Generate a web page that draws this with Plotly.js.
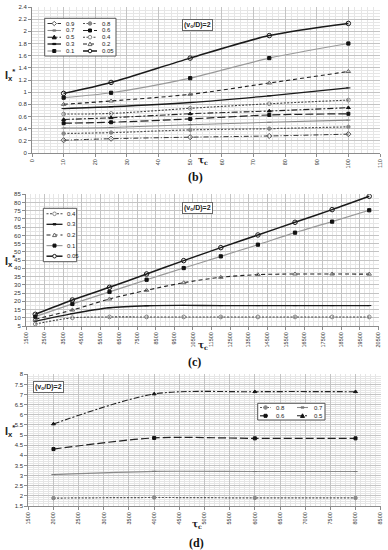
<!DOCTYPE html>
<html><head><meta charset="utf-8">
<script src="https://cdn.plot.ly/plotly-3.0.1.min.js"></script>
<style>html,body{margin:0;padding:0;background:#fff}#chart{width:388px;height:550px}</style>
</head><body><div id="chart"></div>
<script>
// ---- data (b) ----
const tauB = [10, 25, 50, 75, 100];
const b005 = [0.98, 1.16, 1.56, 1.93, 2.13];
const b01  = [0.91, 0.99, 1.23, 1.56, 1.80];
const b02  = [0.80, 0.855, 0.965, 1.15, 1.34];
const b03  = [0.73, 0.76, 0.83, 0.94, 1.07];
const b04  = [0.64, 0.65, 0.735, 0.81, 0.87];
const b05  = [0.55, 0.58, 0.645, 0.69, 0.745];
const b06  = [0.49, 0.505, 0.56, 0.625, 0.645];
const b07  = [0.41, 0.42, 0.465, 0.505, 0.54];
const b08  = [0.32, 0.335, 0.38, 0.40, 0.43];
const b09  = [0.21, 0.235, 0.26, 0.28, 0.31];
// ---- data (c) ----
const tauC = [2000, 4000, 6000, 8000, 10000, 12000, 14000, 16000, 18000, 20000];
const c005 = [12.1, 20.8, 28.5, 36.6, 44.7, 52.6, 60.3, 68.0, 75.7, 83.8];
const c01  = [10.7, 18.4, 25.7, 33.1, 40.2, 47.3, 54.4, 61.7, 68.4, 75.3];
const c02  = [9.1, 14.7, 21.4, 26.7, 31.3, 34.6, 36.2, 36.6, 36.6, 36.5];
const c03  = [7.9, 12.5, 16.1, 17.3, 17.5, 17.4, 17.4, 17.4, 17.4, 17.4];
const c04  = [6.2, 10.0, 10.5, 10.5, 10.5, 10.5, 10.5, 10.5, 10.5, 10.5];
// ---- data (d) ----
const tauD = [2000, 4000, 6000, 8000];
const d05 = [5.55, 7.03, 7.14, 7.14];
const d06 = [4.31, 4.86, 4.84, 4.84];
const d07 = [3.05, 3.21, 3.20, 3.20];
const d08 = [1.89, 1.92, 1.90, 1.90];

// ---- styles per series label ----
const ST = {
  '0.05': {lc:'#1a1a1a', dash:'solid', lw:1.5, sym:'circle-open', mc:'#1a1a1a', ms:4.5, k:'circ', fill:'white'},
  '0.1':  {lc:'#9a9a9a', dash:'solid', lw:1.2, sym:'square', mc:'#111', ms:3.2, k:'sq', fill:'#111'},
  '0.2':  {lc:'#222', dash:'4px,3px', lw:1.1, sym:'triangle-up-open', mc:'#666', ms:4, k:'tri', fill:'white'},
  '0.3':  {lc:'#1a1a1a', dash:'solid', lw:1.3, sym:'line-ew-open', mc:'#111', ms:3, k:'dash', fill:'#111'},
  '0.4':  {lc:'#444', dash:'2px,1.5px', lw:1.1, sym:'circle-open', mc:'#888', ms:3.8, k:'circ', fill:'white'},
  '0.5':  {lc:'#222', dash:'6px,2px,2px,2px', lw:1.1, sym:'triangle-up', mc:'#111', ms:3.5, k:'tri', fill:'#111'},
  '0.6':  {lc:'#222', dash:'8px,3px', lw:1.2, sym:'square', mc:'#111', ms:3, k:'sq', fill:'#111'},
  '0.7':  {lc:'#8a8a8a', dash:'solid', lw:1.1, sym:'line-ew-open', mc:'#777', ms:3, k:'dash', fill:'#777'},
  '0.8':  {lc:'#555', dash:'2px,1.5px', lw:1.2, sym:'circle', mc:'#888', ms:3.5, k:'circ', fill:'#888'},
  '0.9':  {lc:'#333', dash:'5px,2px,1px,2px', lw:1.0, sym:'diamond-open', mc:'#555', ms:4, k:'dia', fill:'white'}
};

function tr(x, y, name, xa, ya) {
  const s = ST[name];
  return {x: x, y: y, name: name, xaxis: xa, yaxis: ya, type: 'scatter', mode: 'lines+markers',
    showlegend: false, hoverinfo: 'skip',
    line: {color: s.lc, dash: s.dash, width: s.lw, shape: 'spline', smoothing: 0.8},
    marker: {symbol: s.sym, color: s.mc, size: s.ms, line: {color: s.mc, width: 1}}};
}

const data = [
  tr(tauB, b09, '0.9', 'x', 'y'), tr(tauB, b08, '0.8', 'x', 'y'), tr(tauB, b07, '0.7', 'x', 'y'),
  tr(tauB, b06, '0.6', 'x', 'y'), tr(tauB, b05, '0.5', 'x', 'y'), tr(tauB, b04, '0.4', 'x', 'y'),
  tr(tauB, b03, '0.3', 'x', 'y'), tr(tauB, b02, '0.2', 'x', 'y'), tr(tauB, b01, '0.1', 'x', 'y'),
  tr(tauB, b005, '0.05', 'x', 'y'),
  tr(tauC, c04, '0.4', 'x2', 'y2'), tr(tauC, c03, '0.3', 'x2', 'y2'), tr(tauC, c02, '0.2', 'x2', 'y2'),
  tr(tauC, c01, '0.1', 'x2', 'y2'), tr(tauC, c005, '0.05', 'x2', 'y2'),
  tr(tauD, d08, '0.8', 'x3', 'y3'), tr(tauD, d07, '0.7', 'x3', 'y3'),
  tr(tauD, d06, '0.6', 'x3', 'y3'), tr(tauD, d05, '0.5', 'x3', 'y3')
];

const W = 388, H = 550;
const px = v => v / W, py = v => 1 - v / H;
const FONT = 'Liberation Sans, Arial, sans-serif';

function xax(dom, range, dtick, minor, anchor, tick0) {
  return {domain: dom, range: range, dtick: dtick, tick0: tick0, anchor: anchor, tickangle: -90, tickformat: 'd',
    showgrid: true, gridcolor: '#c4c4c4', gridwidth: 1, zeroline: false,
    showline: true, linecolor: '#8c8c8c', linewidth: 1, ticks: 'outside', ticklen: 3, tickcolor: '#8c8c8c',
    tickfont: {size: 5.5, color: '#333', family: FONT},
    minor: {dtick: minor, showgrid: true, gridcolor: '#e6e6e6', gridwidth: 1}, fixedrange: true};
}
function yax(dom, range, dtick, minor, anchor, tick0) {
  return {domain: dom, range: range, dtick: dtick, tick0: tick0, anchor: anchor,
    showgrid: true, gridcolor: '#c4c4c4', gridwidth: 1, zeroline: false,
    showline: true, linecolor: '#8c8c8c', linewidth: 1, ticks: 'outside', ticklen: 3, tickcolor: '#8c8c8c',
    tickfont: {size: 6, color: '#333', family: FONT},
    minor: {dtick: minor, showgrid: true, gridcolor: '#e6e6e6', gridwidth: 1}, fixedrange: true};
}

const shapes = [];
const annotations = [];

function mshape(cx, cy, s) {
  const base = {xref: 'paper', yref: 'paper', xsizemode: 'pixel', ysizemode: 'pixel',
    xanchor: px(cx), yanchor: py(cy), line: {color: s.mc, width: 1}, fillcolor: s.fill, layer: 'above'};
  if (s.k === 'circ') return Object.assign(base, {type: 'circle', x0: -1.8, x1: 1.8, y0: -1.8, y1: 1.8});
  if (s.k === 'sq') return Object.assign(base, {type: 'rect', x0: -1.5, x1: 1.5, y0: -1.5, y1: 1.5});
  if (s.k === 'tri') return Object.assign(base, {type: 'path', path: 'M-2,-1.6 L2,-1.6 L0,2 Z'});
  if (s.k === 'dia') return Object.assign(base, {type: 'path', path: 'M0,2.2 L2.2,0 L0,-2.2 L-2.2,0 Z'});
  return Object.assign(base, {type: 'rect', x0: -1.5, x1: 1.5, y0: -0.6, y1: 0.6});
}

function legendEntry(x0, x1, xl, yc, name) {
  const s = ST[name];
  shapes.push({type: 'line', xref: 'paper', yref: 'paper', x0: px(x0), x1: px(x1), y0: py(yc), y1: py(yc),
    line: {color: s.lc, width: s.lw, dash: s.dash}});
  shapes.push(mshape((x0 + x1) / 2, yc, s));
  annotations.push({xref: 'paper', yref: 'paper', x: px(xl), y: py(yc), text: name, showarrow: false,
    xanchor: 'left', yanchor: 'middle', font: {size: 6, color: '#222', family: FONT}});
}
function box(x0, x1, y0, y1) {
  shapes.push({type: 'rect', xref: 'paper', yref: 'paper', x0: px(x0), x1: px(x1), y0: py(y1), y1: py(y0),
    line: {color: '#555', width: 1}, fillcolor: 'white', layer: 'above'});
}

// legend (b)
box(44.7, 116, 18.3, 56);
const rowsB = [23.5, 30.5, 37.2, 44, 51];
const col1B = ['0.9', '0.7', '0.5', '0.3', '0.1'];
const col2B = ['0.8', '0.6', '0.4', '0.2', '0.05'];
rowsB.forEach((r, i) => { legendEntry(47.5, 61, 64, r, col1B[i]); legendEntry(83, 97, 100, r, col2B[i]); });
// legend (c)
box(43.3, 76.7, 208.3, 261.7);
const rowsC = [213.8, 224.3, 235, 245.6, 256.2];
const colC = ['0.4', '0.3', '0.2', '0.1', '0.05'];
rowsC.forEach((r, i) => legendEntry(46.5, 62.5, 65, r, colC[i]));
// legend (d)
box(257.7, 325, 403.3, 420);
legendEntry(260, 271, 274, 407.5, '0.8'); legendEntry(297, 308, 312, 407.5, '0.7');
legendEntry(260, 271, 274, 415.8, '0.6'); legendEntry(297, 308, 312, 415.8, '0.5');

// (vo/D)=2 labels
function vbox(x, y) {
  annotations.push({xref: 'paper', yref: 'paper', x: px(x), y: py(y), text: '<b>(v<sub>o</sub>/D)=2</b>', showarrow: false,
    xanchor: 'left', yanchor: 'middle', font: {size: 7, color: '#222', family: FONT},
    bordercolor: '#666', borderwidth: 1, borderpad: 1, bgcolor: 'white'});
}
vbox(182, 24.5); vbox(182, 208); vbox(32.5, 386.5);

// axis titles & captions
function ytitle(y) {
  annotations.push({xref: 'paper', yref: 'paper', x: px(10), y: py(y), text: '<b>I<sub>x</sub><sup>*</sup></b>', showarrow: false,
    xanchor: 'center', yanchor: 'middle', font: {size: 11, color: '#222', family: FONT}});
}
ytitle(75); ytitle(261); ytitle(431);
function xtitle(x, y) {
  annotations.push({xref: 'paper', yref: 'paper', x: px(x), y: py(y), text: '<b>τ<sub>c</sub></b>', showarrow: false,
    xanchor: 'center', yanchor: 'middle', font: {size: 9, color: '#222', family: 'DejaVu Serif'}});
}
xtitle(203, 160); xtitle(203, 345); xtitle(197, 524);
function caption(t, x, y) {
  annotations.push({xref: 'paper', yref: 'paper', x: px(x), y: py(y), text: '<b>' + t + '</b>', showarrow: false,
    xanchor: 'center', yanchor: 'middle', font: {size: 12, color: '#111', family: 'Liberation Serif, serif'}});
}
caption('(b)', 195, 177); caption('(c)', 194, 362); caption('(d)', 196, 543);

const layout = {
  width: W, height: H, margin: {l: 0, r: 0, t: 0, b: 0}, paper_bgcolor: 'white', plot_bgcolor: 'white',
  showlegend: false, font: {family: FONT},
  xaxis: xax([px(32), px(380)], [0, 110], 10, 2, 'y', 0),
  yaxis: yax([py(153), py(7)], [0, 2.4], 0.2, 0.05, 'x', 0),
  xaxis2: xax([px(26), px(378.5)], [1500, 20500], 1000, 250, 'y2', 1500),
  yaxis2: yax([py(326), py(194.3)], [5, 85], 5, 2.5, 'x2', 5),
  xaxis3: xax([px(28.3), px(380.7)], [1500, 8500], 500, 100, 'y3', 1500),
  yaxis3: yax([py(506), py(374.3)], [1.5, 8], 0.5, 0.1, 'x3', 1.5),
  shapes: shapes, annotations: annotations
};

Plotly.newPlot('chart', data, layout, {staticPlot: true, displayModeBar: false});
</script></body></html>
